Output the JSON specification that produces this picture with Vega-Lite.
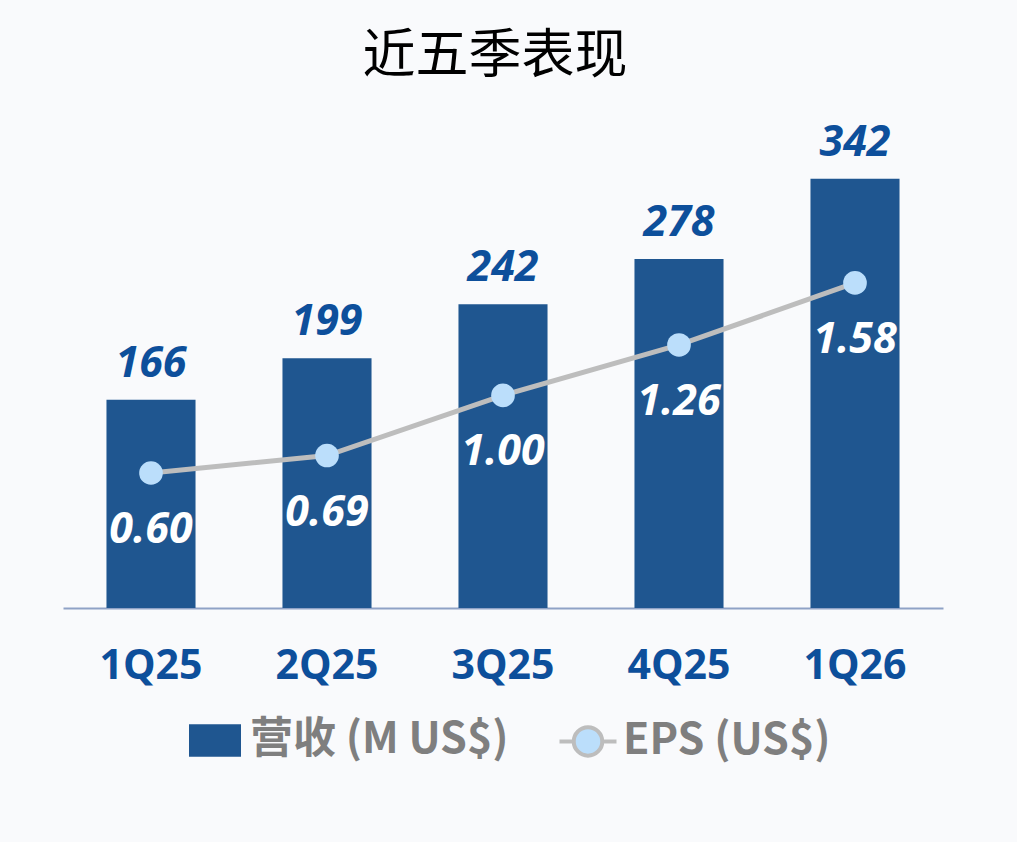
{
  "$schema": "https://vega.github.io/schema/vega-lite/v6.json",
  "width": 880,
  "height": 502,
  "autosize": {"type": "none"},
  "padding": {"left": 63, "top": 106, "right": 74, "bottom": 234},
  "background": "#F9FAFC",
  "title": {
    "text": "近五季表现",
    "font": "Noto Sans CJK SC",
    "fontSize": 53,
    "fontWeight": "normal",
    "color": "#000000",
    "anchor": "middle",
    "offset": 22,
    "dx": -8
  },
  "config": {
    "view": {"stroke": null},
    "axis": {"grid": false}
  },
  "data": {
    "values": [
      {"q": "1Q25", "rev": 166, "eps": 0.60},
      {"q": "2Q25", "rev": 199, "eps": 0.69},
      {"q": "3Q25", "rev": 242, "eps": 1.00},
      {"q": "4Q25", "rev": 278, "eps": 1.26},
      {"q": "1Q26", "rev": 342, "eps": 1.58}
    ]
  },
  "encoding": {
    "x": {
      "field": "q",
      "type": "nominal",
      "sort": null,
      "scale": {"paddingInner": 0.494, "paddingOuter": 0.247},
      "axis": {
        "title": null,
        "labelAngle": 0,
        "labelFont": "Open Sans",
        "labelFontSize": 41,
        "labelFontWeight": "bold",
        "labelColor": "#0D4F9B",
        "labelPadding": 38,
        "ticks": false,
        "domainColor": "#8FA2C6",
        "domainWidth": 2
      }
    }
  },
  "layer": [
    {
      "mark": {"type": "bar"},
      "encoding": {
        "y": {"field": "rev", "type": "quantitative", "scale": {"domain": [0, 400], "nice": false}, "axis": null},
        "color": {
          "datum": "营收 (M US$)",
          "type": "nominal",
          "scale": {"domain": ["营收 (M US$)", "EPS (US$)"], "range": ["#1F5690", "#BBDEFB"]},
          "legend": {
            "orient": "none",
            "legendX": 125,
            "legendY": 607,
            "direction": "horizontal",
            "title": null,
            "labelFont": "Noto Sans CJK SC",
            "labelFontSize": 43,
            "labelFontWeight": "bold",
            "labelColor": "#7F7F7F",
            "labelLimit": 500,
            "symbolSize": 2500,
            "labelOffset": 8,
            "columnPadding": 42,
            "encode": {
              "symbols": {
                "update": {
                  "shape": {"signal": "datum.value === 'EPS (US$)' ? 'M-1.14,0H-0.57M0.57,0H1.14M0.57,0A0.57,0.57 0 1 1 -0.57,0A0.57,0.57 0 1 1 0.57,0Z' : 'M-1.04,-0.65H1.04V0.65H-1.04Z'"},
                  "fill": {"signal": "datum.value === 'EPS (US$)' ? '#BBDEFB' : '#1F5690'"},
                  "stroke": {"signal": "datum.value === 'EPS (US$)' ? '#BDBDBD' : 'transparent'"},
                  "strokeWidth": {"value": 4},
                  "opacity": {"value": 1},
                  "fillOpacity": {"value": 1},
                  "strokeOpacity": {"value": 1}
                }
              }
            }
          }
        }
      }
    },
    {
      "mark": {"type": "text", "font": "Open Sans", "fontSize": 43, "fontWeight": "bold", "fontStyle": "italic", "color": "#0D4F9B", "baseline": "alphabetic", "dy": -23},
      "encoding": {
        "y": {"field": "rev", "type": "quantitative", "scale": {"domain": [0, 400], "nice": false}, "axis": null},
        "text": {"field": "rev", "type": "quantitative"}
      }
    },
    {
      "layer": [
        {
          "mark": {"type": "line", "color": "#BDBDBD", "strokeWidth": 5},
          "encoding": {
            "y": {"field": "eps", "type": "quantitative", "scale": {"domain": [-0.096, 2.492], "nice": false, "zero": false}, "axis": null}
          }
        },
        {
          "mark": {"type": "point", "filled": true, "size": 560, "opacity": 1},
          "encoding": {
            "y": {"field": "eps", "type": "quantitative", "scale": {"domain": [-0.096, 2.492], "nice": false, "zero": false}, "axis": null},
            "color": {"datum": "EPS (US$)", "type": "nominal"}
          }
        },
        {
          "mark": {"type": "text", "font": "Open Sans", "fontSize": 43, "fontWeight": "bold", "fontStyle": "italic", "color": "#FFFFFF", "baseline": "middle", "dy": 57},
          "encoding": {
            "y": {"field": "eps", "type": "quantitative", "scale": {"domain": [-0.096, 2.492], "nice": false, "zero": false}, "axis": null},
            "text": {"field": "eps", "type": "quantitative", "format": ".2f"}
          }
        }
      ]
    }
  ],
  "resolve": {"scale": {"y": "independent"}}
}
